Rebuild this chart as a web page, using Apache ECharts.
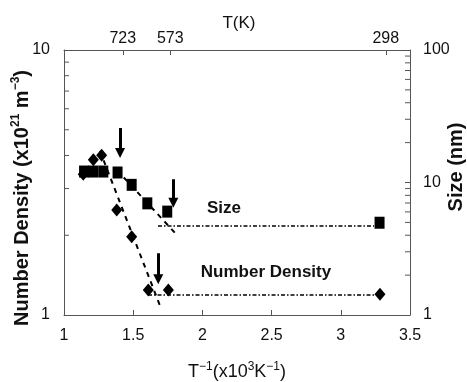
<!DOCTYPE html>
<html>
<head>
<meta charset="utf-8">
<script src="https://cdn.jsdelivr.net/npm/echarts@6/dist/echarts.min.js"></script>
<style>html,body{margin:0;padding:0;background:#fff}#c{width:467px;height:382px}</style>
</head>
<body>
<div id="c"></div>
<script>
// ---- data ----
const densityX = [1.139, 1.212, 1.272, 1.381, 1.489, 1.609, 1.754, 3.283];
const densityY = [3.40, 3.85, 4.01, 2.49, 1.975, 1.243, 1.243, 1.197];
const sizeX = [1.145, 1.212, 1.284, 1.387, 1.489, 1.602, 1.746, 3.28];
const sizeY = [12.1, 12.1, 12.1, 11.9, 9.6, 6.96, 6.03, 4.97];
const densityTrendX = [1.26, 1.70];
const densityTrendY = [4.16, 1.063];
const sizeTrendX = [1.383, 1.809];
const sizeTrendY = [12.4, 4.09];
const densityPlateauX = [1.607, 3.25];
const densityPlateauY = [1.19, 1.19];
const sizePlateauX = [1.679, 3.24];
const sizePlateauY = [4.69, 4.69];
const arrowX = [1.405, 1.790, 1.681];
const arrowFrom = [5.08, 3.25, 1.71];
const arrowTo = [4.09, 2.65, 1.363];
const topTickPos = [1.425, 1.768, 3.325];
const topTickLabels = ['723', '573', '298'];
const leftMinor = [2, 3, 4, 5, 6, 7, 8, 9];
const rightMinor = [2, 3, 4, 5, 6, 7, 8, 9, 20, 30, 40, 50, 60, 70, 80, 90];

const FONT = 'Liberation Sans, Arial, sans-serif';
const AX = '#555';
const zip = (a, b) => a.map((v, i) => [v, b[i]]);

const chart = echarts.init(document.getElementById('c'), null, {renderer: 'canvas'});
chart.setOption({
  animation: false,
  backgroundColor: '#fff',
  textStyle: {fontFamily: FONT},
  grid: {left: 64, right: 57, top: 50, bottom: 67, containLabel: false, outerBoundsMode: 'none'},
  xAxis: [
    {
      type: 'value', min: 1, max: 3.5, interval: 0.5, position: 'bottom',
      axisLine: {show: true, lineStyle: {color: AX, width: 1}},
      axisTick: {show: true, inside: true, length: 5, lineStyle: {color: AX}},
      axisLabel: {margin: 13, fontSize: 16, color: '#111', fontFamily: FONT},
      splitLine: {show: false}
    },
    {
      type: 'value', min: 1, max: 3.5, position: 'top',
      axisLine: {show: true, lineStyle: {color: AX, width: 1}},
      axisTick: {show: true, inside: true, length: 5, customValues: topTickPos, lineStyle: {color: AX}},
      axisLabel: {margin: 3, fontSize: 16, color: '#111', fontFamily: FONT, customValues: topTickPos,
        formatter: v => { const i = topTickPos.findIndex(p => Math.abs(p - v) < 1e-6); return i >= 0 ? topTickLabels[i] : ''; }},
      splitLine: {show: false}
    }
  ],
  yAxis: [
    {
      type: 'log', logBase: 10, min: 1, max: 10, position: 'left',
      axisLine: {show: true, lineStyle: {color: AX, width: 1}},
      axisTick: {show: true, inside: true, length: 5, lineStyle: {color: AX}},
      axisLabel: {margin: 14, fontSize: 16, color: '#111', fontFamily: FONT},
      splitLine: {show: false}
    },
    {
      type: 'log', logBase: 10, min: 1, max: 100, position: 'right',
      axisLine: {show: true, lineStyle: {color: AX, width: 1}},
      axisTick: {show: true, inside: true, length: 5, lineStyle: {color: AX}},
      axisLabel: {margin: 13, fontSize: 16, color: '#111', fontFamily: FONT},
      splitLine: {show: false}
    }
  ],
  graphic: [
    {type: 'text', x: 239, y: 23, z: 100,
      style: {text: 'T(K)', align: 'center', verticalAlign: 'middle', font: '17px ' + FONT, fill: '#111'}},
    {type: 'text', x: 22, y: 198, rotation: Math.PI / 2, z: 100,
      style: {text: '{b|Number Density (x10}{s|21}{b| m}{s|−3}{b|)}', align: 'center', verticalAlign: 'middle',
        rich: {b: {font: 'bold 20px ' + FONT, fill: '#111'}, s: {font: 'bold 12px ' + FONT, fill: '#111', padding: [0, 0, 12, 0]}}}},
    {type: 'text', x: 456, y: 167, rotation: Math.PI / 2, z: 100,
      style: {text: 'Size (nm)', align: 'center', verticalAlign: 'middle', font: 'bold 20px ' + FONT, fill: '#111'}},
    {type: 'text', x: 237, y: 372, z: 100,
      style: {text: '{b|T}{s|−1}{b|(x10}{s|3}{b|K}{s|−1}{b|)}', align: 'center', verticalAlign: 'middle',
        rich: {b: {font: '18px ' + FONT, fill: '#111'}, s: {font: '12px ' + FONT, fill: '#111', padding: [0, 0, 10, 0]}}}},
    {type: 'text', x: 224, y: 208, z: 100,
      style: {text: 'Size', align: 'center', verticalAlign: 'middle', font: 'bold 17px ' + FONT, fill: '#111'}},
    {type: 'text', x: 266, y: 272, z: 100,
      style: {text: 'Number Density', align: 'center', verticalAlign: 'middle', font: 'bold 17px ' + FONT, fill: '#111'}}
  ],
  series: [
    {type: 'scatter', xAxisIndex: 0, yAxisIndex: 0, clip: false, silent: true, z: 1,
      data: leftMinor.map(v => [1, v]), symbol: 'rect', symbolSize: [5, 1], symbolOffset: [2.5, 0],
      itemStyle: {color: AX, opacity: 1}},
    {type: 'scatter', xAxisIndex: 0, yAxisIndex: 1, clip: false, silent: true, z: 1,
      data: rightMinor.map(v => [3.5, v]), symbol: 'rect', symbolSize: [5, 1], symbolOffset: [-2.5, 0],
      itemStyle: {color: AX, opacity: 1}},
    {type: 'line', xAxisIndex: 0, yAxisIndex: 0, data: zip(densityPlateauX, densityPlateauY), symbol: 'none',
      lineStyle: {color: '#000', width: 1.6, type: [4, 2, 1.5, 2]}, z: 2},
    {type: 'line', xAxisIndex: 0, yAxisIndex: 1, data: zip(sizePlateauX, sizePlateauY), symbol: 'none',
      lineStyle: {color: '#000', width: 1.6, type: [4, 2, 1.5, 2]}, z: 2},
    {type: 'line', xAxisIndex: 0, yAxisIndex: 0, data: zip(densityTrendX, densityTrendY), symbol: 'none',
      lineStyle: {color: '#000', width: 2, type: [5, 5]}, z: 2},
    {type: 'line', xAxisIndex: 0, yAxisIndex: 1, data: zip(sizeTrendX, sizeTrendY), symbol: 'none',
      lineStyle: {color: '#000', width: 2, type: [5, 5]}, z: 2},
    {type: 'scatter', name: 'Number Density', xAxisIndex: 0, yAxisIndex: 0, data: zip(densityX, densityY),
      symbol: 'diamond', symbolSize: [11, 13], itemStyle: {color: '#000', opacity: 1}, z: 3},
    {type: 'scatter', name: 'Size', xAxisIndex: 0, yAxisIndex: 1, data: zip(sizeX, sizeY),
      symbol: 'rect', symbolSize: [10, 12], itemStyle: {color: '#000', opacity: 1}, z: 4},
    {type: 'lines', coordinateSystem: 'cartesian2d', xAxisIndex: 0, yAxisIndex: 0, z: 5,
      data: arrowX.map((x, i) => ({coords: [[x, arrowFrom[i]], [x, arrowTo[i]]]})),
      symbol: ['none', 'triangle'], symbolSize: 10,
      lineStyle: {color: '#000', width: 3, opacity: 1}}
  ]
});
</script>
</body>
</html>
